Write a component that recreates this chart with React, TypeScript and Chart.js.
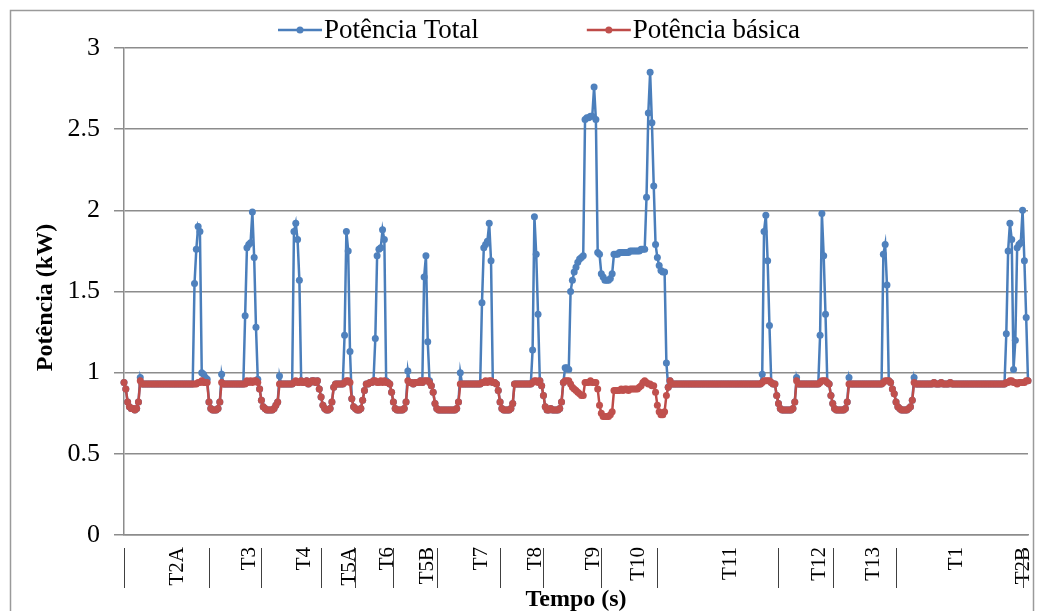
import React, { useEffect, useRef } from "react";
import { Chart, registerables } from "chart.js";

Chart.register(...registerables);

const FONT = "'Liberation Serif', 'Times New Roman', serif";

const seriesNames = ["Potência Total", "Potência básica"];

// Potência Total (kW), one value per sample
const totalPower = [
  0.94, 0.90, 0.82, 0.79, 0.78, 0.78, 0.77, 0.78, 0.82, 0.97,
  0.93, 0.93, 0.93, 0.93, 0.93, 0.93, 0.93, 0.93, 0.93, 0.93,
  0.93, 0.93, 0.93, 0.93, 0.93, 0.93, 0.93, 0.93, 0.93, 0.93,
  0.93, 0.93, 0.93, 0.93, 0.93, 0.93, 0.93, 0.93, 0.93, 1.55,
  1.76, 1.90, 1.87, 1.00, 0.99, 0.97, 0.96, 0.82, 0.78, 0.77,
  0.77, 0.77, 0.78, 0.82, 0.99, 0.93, 0.93, 0.93, 0.93, 0.93,
  0.93, 0.93, 0.93, 0.93, 0.93, 0.93, 0.93, 1.35, 1.77, 1.79,
  1.80, 1.99, 1.71, 1.28, 0.96, 0.90, 0.83, 0.79, 0.78, 0.77,
  0.77, 0.77, 0.77, 0.78, 0.80, 0.82, 0.98, 0.93, 0.93, 0.93,
  0.93, 0.93, 0.93, 0.93, 1.87, 1.92, 1.82, 1.57, 0.95, 0.94,
  0.94, 0.95, 0.93, 0.94, 0.95, 0.95, 0.94, 0.95, 0.90, 0.85,
  0.80, 0.78, 0.77, 0.77, 0.78, 0.82, 0.91, 0.93, 0.93, 0.93,
  0.93, 0.93, 1.23, 1.87, 1.75, 1.13, 0.84, 0.79, 0.78, 0.77,
  0.77, 0.78, 0.83, 0.89, 0.93, 0.93, 0.94, 0.94, 0.95, 1.21,
  1.72, 1.76, 1.77, 1.88, 1.82, 0.95, 0.94, 0.93, 0.88, 0.82,
  0.78, 0.77, 0.77, 0.77, 0.77, 0.78, 0.82, 1.01, 0.94, 0.94,
  0.93, 0.94, 0.94, 0.94, 0.95, 0.94, 1.59, 1.72, 1.19, 0.95,
  0.92, 0.88, 0.81, 0.78, 0.77, 0.77, 0.77, 0.77, 0.77, 0.77,
  0.77, 0.77, 0.77, 0.77, 0.78, 0.82, 1.00, 0.93, 0.93, 0.93,
  0.93, 0.93, 0.93, 0.93, 0.93, 0.93, 0.93, 0.93, 1.43, 1.77,
  1.79, 1.81, 1.92, 1.69, 0.94, 0.94, 0.93, 0.89, 0.82, 0.78,
  0.77, 0.77, 0.77, 0.77, 0.78, 0.81, 0.93, 0.93, 0.93, 0.93,
  0.93, 0.93, 0.93, 0.93, 0.93, 0.93, 1.14, 1.96, 1.73, 1.36,
  0.95, 0.92, 0.86, 0.79, 0.77, 0.77, 0.78, 0.77, 0.77, 0.77,
  0.77, 0.78, 0.82, 0.94, 1.03, 1.03, 1.02, 1.50, 1.57, 1.62,
  1.65, 1.68, 1.70, 1.71, 1.72, 2.56, 2.57, 2.57, 2.58, 2.58,
  2.76, 2.56, 1.74, 1.73, 1.61, 1.59, 1.57, 1.57, 1.57, 1.58,
  1.61, 1.73, 1.73, 1.73, 1.74, 1.74, 1.74, 1.74, 1.74, 1.74,
  1.75, 1.75, 1.75, 1.75, 1.75, 1.75, 1.76, 1.76, 1.76, 2.08,
  2.60, 2.85, 2.54, 2.15, 1.79, 1.71, 1.66, 1.63, 1.62, 1.62,
  1.06, 0.91, 0.95, 0.93, 0.93, 0.93, 0.93, 0.93, 0.93, 0.93,
  0.93, 0.93, 0.93, 0.93, 0.93, 0.93, 0.93, 0.93, 0.93, 0.93,
  0.93, 0.93, 0.93, 0.93, 0.93, 0.93, 0.93, 0.93, 0.93, 0.93,
  0.93, 0.93, 0.93, 0.93, 0.93, 0.93, 0.93, 0.93, 0.93, 0.93,
  0.93, 0.93, 0.93, 0.93, 0.93, 0.93, 0.93, 0.93, 0.93, 0.93,
  0.93, 0.93, 0.93, 0.99, 1.87, 1.97, 1.69, 1.29, 0.94, 0.93,
  0.93, 0.86, 0.81, 0.78, 0.77, 0.77, 0.77, 0.77, 0.77, 0.77,
  0.78, 0.82, 0.97, 0.93, 0.93, 0.93, 0.93, 0.93, 0.93, 0.93,
  0.93, 0.93, 0.93, 0.93, 0.93, 1.23, 1.98, 1.72, 1.36, 0.94,
  0.93, 0.86, 0.81, 0.78, 0.77, 0.77, 0.77, 0.77, 0.77, 0.78,
  0.82, 0.97, 0.93, 0.93, 0.93, 0.93, 0.93, 0.93, 0.93, 0.93,
  0.93, 0.93, 0.93, 0.93, 0.93, 0.93, 0.93, 0.93, 0.93, 0.93,
  1.73, 1.79, 1.54, 0.95, 0.94, 0.90, 0.87, 0.82, 0.79, 0.78,
  0.77, 0.77, 0.77, 0.77, 0.78, 0.79, 0.83, 0.97, 0.93, 0.93,
  0.93, 0.93, 0.93, 0.93, 0.93, 0.93, 0.93, 0.93, 0.94, 0.93,
  0.93, 0.93, 0.94, 0.93, 0.93, 0.93, 0.93, 0.94, 0.93, 0.93,
  0.93, 0.93, 0.93, 0.93, 0.93, 0.93, 0.93, 0.93, 0.93, 0.93,
  0.93, 0.93, 0.93, 0.93, 0.93, 0.93, 0.93, 0.93, 0.93, 0.93,
  0.93, 0.93, 0.93, 0.93, 0.93, 0.93, 0.93, 0.93, 1.24, 1.75,
  1.92, 1.82, 1.02, 1.20, 1.77, 1.79, 1.80, 2.00, 1.69, 1.34,
  0.95,
];

// Potência básica (kW), one value per sample
const basicPower = [
  0.94, 0.90, 0.82, 0.79, 0.78, 0.78, 0.77, 0.78, 0.82, 0.95,
  0.93, 0.93, 0.93, 0.93, 0.93, 0.93, 0.93, 0.93, 0.93, 0.93,
  0.93, 0.93, 0.93, 0.93, 0.93, 0.93, 0.93, 0.93, 0.93, 0.93,
  0.93, 0.93, 0.93, 0.93, 0.93, 0.93, 0.93, 0.93, 0.93, 0.93,
  0.93, 0.94, 0.94, 0.95, 0.94, 0.94, 0.94, 0.82, 0.78, 0.77,
  0.77, 0.77, 0.78, 0.82, 0.94, 0.93, 0.93, 0.93, 0.93, 0.93,
  0.93, 0.93, 0.93, 0.93, 0.93, 0.93, 0.93, 0.93, 0.95, 0.94,
  0.95, 0.94, 0.95, 0.95, 0.94, 0.90, 0.83, 0.79, 0.78, 0.77,
  0.77, 0.77, 0.77, 0.78, 0.80, 0.82, 0.93, 0.93, 0.93, 0.93,
  0.93, 0.93, 0.93, 0.93, 0.94, 0.95, 0.94, 0.94, 0.95, 0.94,
  0.94, 0.95, 0.93, 0.94, 0.95, 0.95, 0.94, 0.95, 0.90, 0.85,
  0.80, 0.78, 0.77, 0.77, 0.78, 0.82, 0.91, 0.93, 0.93, 0.93,
  0.93, 0.93, 0.94, 0.95, 0.95, 0.94, 0.84, 0.79, 0.78, 0.77,
  0.77, 0.78, 0.83, 0.89, 0.93, 0.93, 0.94, 0.94, 0.95, 0.95,
  0.94, 0.94, 0.95, 0.94, 0.95, 0.94, 0.94, 0.93, 0.88, 0.82,
  0.78, 0.77, 0.77, 0.77, 0.77, 0.78, 0.82, 0.95, 0.94, 0.94,
  0.93, 0.94, 0.94, 0.94, 0.95, 0.94, 0.95, 0.95, 0.95, 0.94,
  0.92, 0.88, 0.81, 0.78, 0.77, 0.77, 0.77, 0.77, 0.77, 0.77,
  0.77, 0.77, 0.77, 0.77, 0.78, 0.82, 0.93, 0.93, 0.93, 0.93,
  0.93, 0.93, 0.93, 0.93, 0.93, 0.93, 0.93, 0.93, 0.94, 0.94,
  0.95, 0.94, 0.95, 0.95, 0.94, 0.94, 0.93, 0.89, 0.82, 0.78,
  0.77, 0.77, 0.77, 0.77, 0.78, 0.81, 0.93, 0.93, 0.93, 0.93,
  0.93, 0.93, 0.93, 0.93, 0.93, 0.93, 0.94, 0.95, 0.95, 0.94,
  0.95, 0.92, 0.86, 0.79, 0.77, 0.77, 0.78, 0.77, 0.77, 0.77,
  0.77, 0.78, 0.82, 0.94, 0.95, 0.95, 0.95, 0.93, 0.91, 0.90,
  0.89, 0.88, 0.87, 0.86, 0.86, 0.94, 0.94, 0.94, 0.95, 0.94,
  0.94, 0.94, 0.90, 0.80, 0.75, 0.73, 0.73, 0.73, 0.73, 0.74,
  0.76, 0.89, 0.89, 0.89, 0.89, 0.90, 0.89, 0.90, 0.90, 0.89,
  0.90, 0.90, 0.90, 0.90, 0.90, 0.91, 0.92, 0.94, 0.95, 0.94,
  0.93, 0.93, 0.92, 0.92, 0.88, 0.80, 0.76, 0.74, 0.74, 0.76,
  0.86, 0.91, 0.95, 0.93, 0.93, 0.93, 0.93, 0.93, 0.93, 0.93,
  0.93, 0.93, 0.93, 0.93, 0.93, 0.93, 0.93, 0.93, 0.93, 0.93,
  0.93, 0.93, 0.93, 0.93, 0.93, 0.93, 0.93, 0.93, 0.93, 0.93,
  0.93, 0.93, 0.93, 0.93, 0.93, 0.93, 0.93, 0.93, 0.93, 0.93,
  0.93, 0.93, 0.93, 0.93, 0.93, 0.93, 0.93, 0.93, 0.93, 0.93,
  0.93, 0.93, 0.93, 0.94, 0.95, 0.95, 0.95, 0.95, 0.94, 0.93,
  0.93, 0.86, 0.81, 0.78, 0.77, 0.77, 0.77, 0.77, 0.77, 0.77,
  0.78, 0.82, 0.95, 0.93, 0.93, 0.93, 0.93, 0.93, 0.93, 0.93,
  0.93, 0.93, 0.93, 0.93, 0.93, 0.94, 0.95, 0.95, 0.95, 0.94,
  0.93, 0.86, 0.81, 0.78, 0.77, 0.77, 0.77, 0.77, 0.77, 0.78,
  0.82, 0.93, 0.93, 0.93, 0.93, 0.93, 0.93, 0.93, 0.93, 0.93,
  0.93, 0.93, 0.93, 0.93, 0.93, 0.93, 0.93, 0.93, 0.93, 0.93,
  0.94, 0.95, 0.95, 0.95, 0.94, 0.90, 0.87, 0.82, 0.79, 0.78,
  0.77, 0.77, 0.77, 0.77, 0.78, 0.79, 0.83, 0.94, 0.93, 0.93,
  0.93, 0.93, 0.93, 0.93, 0.93, 0.93, 0.93, 0.93, 0.94, 0.93,
  0.93, 0.93, 0.94, 0.93, 0.93, 0.93, 0.93, 0.94, 0.93, 0.93,
  0.93, 0.93, 0.93, 0.93, 0.93, 0.93, 0.93, 0.93, 0.93, 0.93,
  0.93, 0.93, 0.93, 0.93, 0.93, 0.93, 0.93, 0.93, 0.93, 0.93,
  0.93, 0.93, 0.93, 0.93, 0.93, 0.93, 0.93, 0.93, 0.94, 0.94,
  0.95, 0.95, 0.94, 0.94, 0.93, 0.94, 0.94, 0.94, 0.94, 0.95,
  0.95,
];

// Test phases shown under the time axis
const phaseNames = ["T2A", "T3", "T4", "T5A", "T6", "T5B", "T7", "T8", "T9", "T10", "T11", "T12", "T13", "T1", "T2B"];
const phaseLabelAt = [28, 68, 98, 123, 144, 166, 196, 226, 258, 283, 334, 383, 413, 459, 496];
const phaseBoundaryAt = [0, 47, 76, 109, 128, 149, 173, 208, 232, 264, 295, 362, 392, 427, 497];

const yMin = 0;
const yMax = 3;
const yStep = 0.5;

const BLUE_LINE = "#4A7EBB";
const BLUE_MARK = "#4F81BD";
const RED_LINE = "#BE4B48";
const RED_MARK = "#C0504D";
const GRID = "#8c8c8c";

const decorPlugin = {
  id: "decor",
  beforeDraw(chart: any) {
    const { ctx, width, height } = chart;
    ctx.save();
    ctx.fillStyle = "#ffffff";
    ctx.fillRect(0, 0, width, height);
    ctx.strokeStyle = "#9a9a9a";
    ctx.lineWidth = 1.5;
    ctx.strokeRect(10.5, 10.5, width - 14, height + 20);
    ctx.restore();
  },
  afterDraw(chart: any) {
    const { ctx } = chart;
    const xs = chart.scales.x;
    ctx.save();
    ctx.strokeStyle = "#404040";
    ctx.lineWidth = 1;
    phaseBoundaryAt.forEach((i) => {
      const x = Math.round(xs.getPixelForValue(i)) + 0.5;
      ctx.beginPath();
      ctx.moveTo(x, xs.top + 13);
      ctx.lineTo(x, xs.top + 53);
      ctx.stroke();
    });
    // legend (line + marker + text)
    ctx.font = `27px ${FONT}`;
    ctx.textBaseline = "middle";
    ctx.textAlign = "left";
    let x = 278;
    const y = 30;
    chart.data.datasets.forEach((ds: any) => {
      ctx.strokeStyle = ds.borderColor;
      ctx.lineWidth = 2.5;
      ctx.beginPath();
      ctx.moveTo(x, y);
      ctx.lineTo(x + 44, y);
      ctx.stroke();
      ctx.fillStyle = ds.pointBackgroundColor;
      ctx.beginPath();
      ctx.arc(x + 22, y, 3.5, 0, Math.PI * 2);
      ctx.fill();
      ctx.fillStyle = "#000";
      ctx.fillText(ds.label, x + 46, y + 1);
      x += 46 + ctx.measureText(ds.label).width + 108;
    });
    ctx.restore();
  },
};

export default function App() {
  const canvasRef = useRef<HTMLCanvasElement | null>(null);

  useEffect(() => {
    if (!canvasRef.current) return;
    const labels = totalPower.map((_, i) => {
      const k = phaseLabelAt.indexOf(i);
      return k >= 0 ? phaseNames[k] : "";
    });
    const chart = new Chart(canvasRef.current, {
      type: "line",
      data: {
        labels,
        datasets: [
          {
            label: seriesNames[0],
            data: totalPower,
            borderColor: BLUE_LINE,
            backgroundColor: BLUE_MARK,
            pointBackgroundColor: BLUE_MARK,
            pointBorderColor: BLUE_MARK,
            borderWidth: 2.5,
            pointRadius: 3.5,
            pointBorderWidth: 0,
            tension: 0,
            order: 1,
          },
          {
            label: seriesNames[1],
            data: basicPower,
            borderColor: RED_LINE,
            backgroundColor: RED_MARK,
            pointBackgroundColor: RED_MARK,
            pointBorderColor: RED_MARK,
            borderWidth: 2.5,
            pointRadius: 3.5,
            pointBorderWidth: 0,
            tension: 0,
            order: 0,
          },
        ],
      },
      options: {
        responsive: true,
        maintainAspectRatio: false,
        animation: false,
        locale: "en-US",
        layout: { padding: { left: 0, top: 48, right: 9, bottom: 0 } },
        plugins: {
          legend: { display: false },
          tooltip: { enabled: false },
        },
        scales: {
          x: {
            type: "category",
            offset: false,
            grid: { display: false },
            border: { display: true, color: GRID, width: 1.5 },
            ticks: {
              autoSkip: false,
              maxRotation: 90,
              minRotation: 90,
              padding: 4,
              labelOffset: 3,
              color: "#000",
              font: { family: FONT, size: 21 },
            },
            title: {
              display: true,
              text: "Tempo (s)",
              color: "#000",
              font: { family: FONT, size: 24, weight: "bold" },
              padding: { top: 0, bottom: -3 },
            },
            afterFit: (s: any) => {
              s.height = 76;
              s.paddingLeft = 0;
              s.paddingRight = 0;
            },
          },
          y: {
            min: yMin,
            max: yMax,
            ticks: {
              stepSize: yStep,
              padding: 14,
              color: "#000",
              font: { family: FONT, size: 26 },
              callback: (v: any) => String(v),
            },
            grid: { color: GRID, lineWidth: 1.5, tickLength: 10, drawTicks: true },
            border: { display: true, color: GRID, width: 1.5 },
            title: {
              display: true,
              text: "Potência (kW)  ",
              color: "#000",
              font: { family: FONT, size: 24, weight: "bold" },
              padding: { top: 31, bottom: 0 },
            },
            afterFit: (s: any) => {
              s.width = 124;
            },
          },
        },
      },
      plugins: [decorPlugin],
    } as any);
    return () => chart.destroy();
  }, []);

  return (
    <div style={{ position: "fixed", left: 0, top: 0, width: 1037, height: 611, background: "#fff" }}>
      <canvas ref={canvasRef} />
    </div>
  );
}
